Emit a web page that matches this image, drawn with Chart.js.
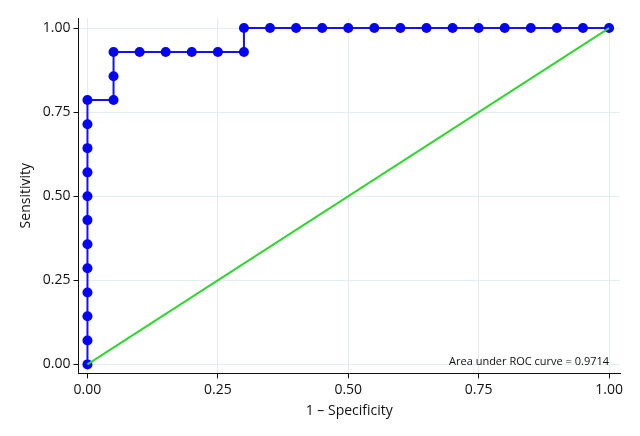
<!DOCTYPE html>
<html>
<head>
<meta charset="utf-8">
<script src="https://cdn.jsdelivr.net/npm/chart.js@4"></script>
<style>
  html, body { margin: 0; padding: 0; background: #fff; }
  #wrap { width: 640px; height: 436px; }
</style>
</head>
<body>
<div id="wrap"><canvas id="roc"></canvas></div>
<script>
// ROC points (1 - specificity, sensitivity)
const fpr = [0, 0, 0, 0, 0, 0, 0, 0, 0, 0, 0, 0,
  0.05, 0.05, 0.05, 0.10, 0.15, 0.20, 0.25, 0.30,
  0.30, 0.35, 0.40, 0.45, 0.50, 0.55, 0.60, 0.65, 0.70, 0.75, 0.80, 0.85, 0.90, 0.95, 1.00];
const tpr = [0, 0.071, 0.143, 0.214, 0.286, 0.357, 0.429, 0.500, 0.571, 0.643, 0.714, 0.786,
  0.786, 0.857, 0.929, 0.929, 0.929, 0.929, 0.929, 0.929,
  1, 1, 1, 1, 1, 1, 1, 1, 1, 1, 1, 1, 1, 1, 1];
// reference line
const refX = [0, 1];
const refY = [0, 1];
const tickVals = [0, 0.25, 0.5, 0.75, 1];
const aucText = "Area under ROC curve = 0.9714";

const font = "'Open Sans', 'Liberation Sans', sans-serif";

// draws the AUC note in the lower right of the plot
const aucNote = {
  id: "aucNote",
  afterDatasetsDraw(chart) {
    const { ctx, scales } = chart;
    ctx.save();
    ctx.font = "11px " + font;
    ctx.fillStyle = "#111";
    ctx.textAlign = "right";
    ctx.textBaseline = "alphabetic";
    ctx.fillText(aucText, scales.x.getPixelForValue(1), scales.y.getPixelForValue(0) + 1);
    ctx.restore();
  },
};

const axisBase = (title) => ({
  type: "linear",
  afterBuildTicks: (axis) => {
    axis.ticks = tickVals.map((v) => ({ value: v }));
  },
  ticks: {
    color: "#111",
    font: { family: font, size: 14 },
    padding: 3,
    callback: (v) => Number(v).toFixed(2),
  },
  grid: {
    color: "#e4edf0",
    tickColor: "#111",
    tickLength: 5,
  },
  border: { display: true, color: "#111", width: 1 },
  title: {
    display: true,
    text: title,
    color: "#111",
    font: { family: font, size: 14 },
  },
});

const xAxis = axisBase("1 \u2013 Specificity");
xAxis.min = -0.0172;
xAxis.max = 1.021;
xAxis.title.padding = { top: 1 };
const yAxis = axisBase("Sensitivity");
yAxis.min = -0.0268;
yAxis.max = 1.03;
yAxis.title.padding = { bottom: 5 };

new Chart(document.getElementById("roc"), {
  type: "scatter",
  data: {
    datasets: [
      {
        label: "Reference",
        data: refX.map((x, i) => ({ x, y: refY[i] })),
        showLine: true,
        borderColor: "#2ed82e",
        borderWidth: 2,
        pointRadius: 0,
      },
      {
        label: "ROC",
        data: fpr.map((x, i) => ({ x, y: tpr[i] })),
        showLine: true,
        borderColor: "#1414e8",
        borderWidth: 2,
        backgroundColor: "#0505ee",
        pointBackgroundColor: "#0505ee",
        pointBorderWidth: 0,
        pointRadius: 5,
      },
    ],
  },
  options: {
    responsive: true,
    maintainAspectRatio: false,
    animation: false,
    layout: { padding: { left: 14, right: 20, top: 18, bottom: 13 } },
    plugins: {
      legend: { display: false },
      tooltip: { enabled: false },
    },
    scales: { x: xAxis, y: yAxis },
  },
  plugins: [aucNote],
});
</script>
</body>
</html>
